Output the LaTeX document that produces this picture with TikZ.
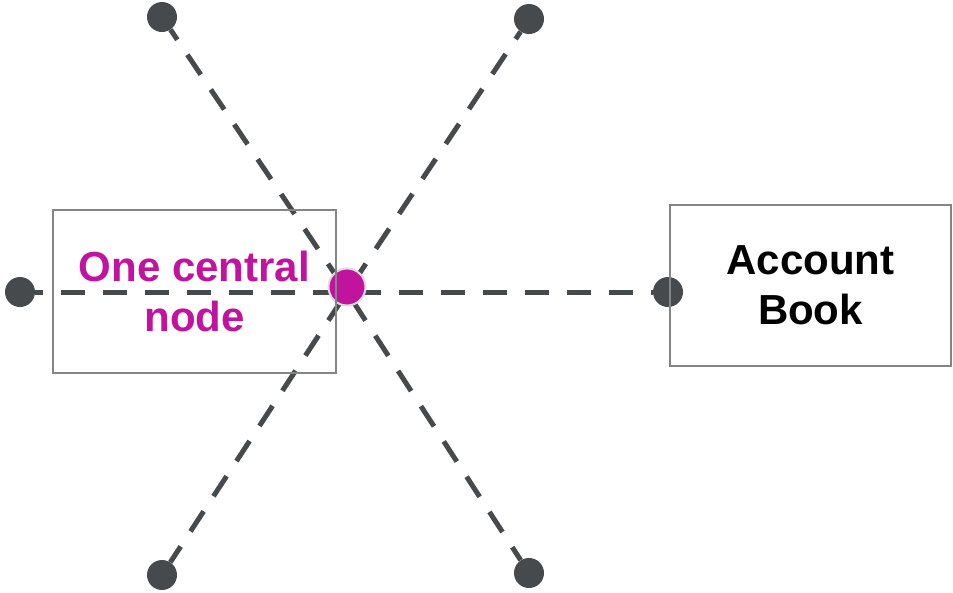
\documentclass[tikz,border=0pt]{standalone}
\usepackage{fontspec}
\setmainfont{Liberation Sans}
\definecolor{linegray}{HTML}{474A4D}
\definecolor{boxgray}{HTML}{858585}
\definecolor{hubpink}{HTML}{C2139F}
\definecolor{ringgray}{HTML}{DCDCDC}
\tikzset{
  spoke/.style={draw=linegray,line width=5pt,dash pattern=on 24pt off 18pt,dash phase=32pt},
  tipdot/.style={circle,fill=linegray,inner sep=0pt,minimum size=30pt},
  hubdot/.style={circle,fill=hubpink,draw=ringgray,line width=2pt,inner sep=0pt,minimum size=37pt},
  frame/.style={draw=boxgray,line width=2.5pt,rectangle,inner sep=0pt,align=center,
    font=\fontsize{42}{50}\selectfont\bfseries}
}
\begin{document}
\begin{tikzpicture}[x=1pt,y=-1pt]
    \useasboundingbox (0,0) rectangle (953,592);
    %% crossing point
    \coordinate (hub) at (347,292);
    %% end points
    \foreach \n/\x/\y in {tl/162/17,tr/529/19,bl/162/575,br/529/573,lf/20/292,rt/668/292}
        \node[tipdot] (\n) at (\x,\y) {};
    %% dashed spokes
    \foreach \n in {tl,tr,bl,br,lf,rt}
        \draw[spoke] (hub) -- (\n);
    %% central dot
    \node[hubdot] (dot) at (347,287) {};
    %% boxes
    \node[frame,minimum width=283pt,minimum height=163pt,text=hubpink] (central) at (194.5,291.5) {One central\\node};
    \node[frame,minimum width=281pt,minimum height=161pt] (book) at (810.5,285.5) {Account\\Book};
\end{tikzpicture}
\end{document}
